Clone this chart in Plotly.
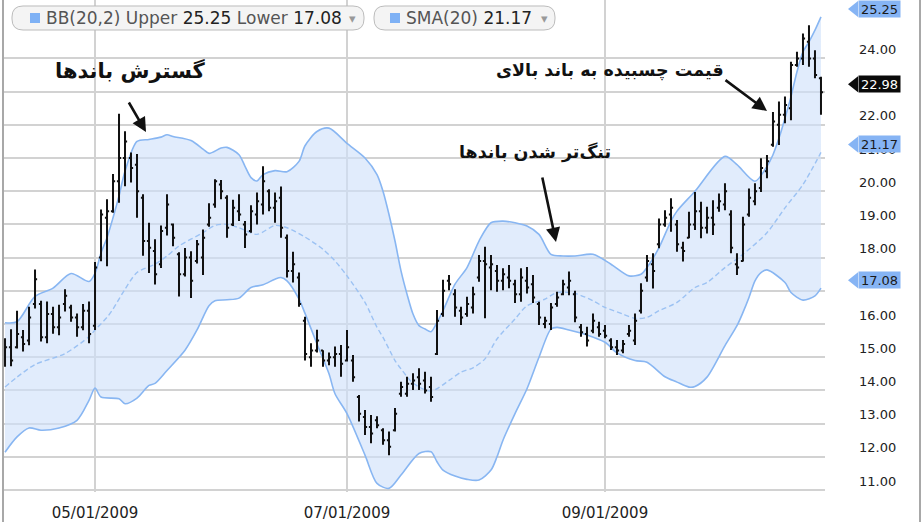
import plotly.graph_objects as go

# ---------------- data ----------------
bar_index = list(range(137))
opens = [15.0, 15.3, 15.3, 15.6, 15.5, 16.6, 16.6, 15.6, 16.3, 15.9,
         16.6, 16.5, 16.2, 15.9, 16.4, 15.95, 18.0, 19.2, 19.4, 20.3,
         21.0, 21.0, 20.8, 19.8, 18.5, 18.2, 17.8, 18.9, 19.0, 18.1,
         17.5, 18.0, 17.9, 18.0, 19.0, 19.6, 20.2, 19.8, 19.0, 19.4,
         19.0, 18.8, 19.3, 19.6, 20.0, 19.5, 19.8, 18.6, 17.6, 17.4,
         16.1, 15.0, 15.2, 15.2, 14.9, 15.0, 15.1, 14.9, 14.9, 13.8,
         13.2, 12.9, 13.1, 12.8, 12.5, 12.8, 13.9, 13.9, 14.2, 14.4,
         14.3, 14.1, 15.1, 16.3, 17.3, 16.9, 16.4, 16.3, 16.5, 17.4,
         17.9, 17.7, 17.6, 17.3, 17.4, 17.2, 16.9, 17.3, 17.2, 16.6,
         16.0, 16.0, 16.6, 16.9, 17.1, 16.9, 15.9, 15.7, 15.8, 15.9,
         15.8, 15.5, 15.3, 15.2, 15.7, 15.5, 16.4, 17.4, 17.8, 18.4,
         19.0, 19.3, 19.0, 18.3, 18.6, 19.0, 19.4, 18.9, 19.2, 19.5,
         19.6, 19.3, 17.8, 17.9, 19.3, 19.7, 20.1, 20.6, 21.4, 22.0,
         22.3, 22.5, 23.8, 24.0, 24.5, 24.0, 23.4]
highs = [15.57, 15.84, 16.40, 15.82, 16.52, 17.64, 16.70, 16.68, 16.52, 16.58,
         17.05, 16.58, 16.32, 16.60, 16.68, 17.87, 19.45, 19.76, 20.52, 22.33,
         21.81, 21.17, 21.12, 19.91, 19.05, 18.55, 18.97, 19.91, 19.03, 18.16,
         18.29, 18.19, 18.53, 18.85, 19.64, 20.36, 20.34, 19.88, 19.74, 19.91,
         19.10, 19.58, 19.96, 20.75, 20.06, 19.96, 20.14, 18.70, 18.18, 17.55,
         16.22, 15.42, 15.83, 15.21, 15.14, 15.32, 15.37, 15.82, 15.07, 13.86,
         13.41, 13.26, 13.22, 12.86, 12.76, 13.47, 14.26, 14.41, 14.52, 14.67,
         14.56, 14.41, 16.42, 17.33, 17.48, 17.05, 16.52, 16.82, 17.12, 18.08,
         18.33, 18.08, 17.78, 17.68, 17.78, 17.33, 17.68, 17.72, 17.48, 16.67,
         16.22, 16.63, 16.97, 17.33, 17.58, 17.00, 16.00, 15.92, 16.32, 16.07,
         15.97, 15.57, 15.52, 15.52, 15.97, 16.32, 17.23, 18.08, 18.13, 19.18,
         19.43, 19.79, 19.13, 18.48, 19.38, 19.98, 19.68, 19.53, 19.73, 19.93,
         20.24, 19.43, 18.13, 19.23, 20.08, 20.24, 20.99, 21.09, 22.39, 22.70,
         22.85, 23.90, 24.20, 24.75, 25.00, 24.25, 23.45]
lows = [14.71, 14.73, 15.26, 15.17, 15.36, 16.47, 15.47, 15.42, 15.71, 15.66,
        16.38, 16.07, 15.62, 15.81, 15.42, 15.82, 17.89, 17.74, 19.35, 19.65,
        20.15, 20.26, 19.20, 18.06, 17.54, 17.19, 17.69, 18.67, 18.34, 16.83,
        17.43, 16.78, 17.82, 17.48, 18.93, 19.50, 19.76, 18.60, 18.95, 19.10,
        18.29, 18.75, 19.00, 19.30, 19.40, 19.05, 18.60, 17.40, 17.25, 16.52,
        14.90, 14.71, 15.14, 14.71, 14.76, 14.71, 14.41, 14.87, 14.26, 13.06,
        12.66, 12.41, 12.86, 12.36, 12.05, 12.76, 13.81, 13.81, 14.01, 14.01,
        13.91, 13.66, 15.07, 16.22, 17.02, 16.22, 15.97, 16.22, 16.32, 17.27,
        16.17, 17.02, 16.97, 17.02, 17.08, 16.63, 16.67, 16.92, 16.63, 15.97,
        15.87, 15.82, 16.52, 16.87, 16.87, 16.05, 15.62, 15.32, 15.72, 15.62,
        15.57, 15.22, 15.07, 15.12, 15.62, 15.37, 16.32, 17.27, 17.07, 18.28,
        18.93, 18.78, 18.18, 17.88, 18.58, 18.83, 18.58, 18.73, 18.68, 19.38,
        19.43, 18.13, 17.48, 17.88, 19.23, 19.58, 19.98, 20.39, 21.34, 21.39,
        22.05, 22.14, 23.75, 23.80, 23.75, 23.40, 22.30]
closes = [15.3, 14.9, 15.7, 15.4, 16.2, 17.35, 15.6, 16.3, 15.9, 16.2,
          16.85, 16.2, 15.9, 16.4, 15.7, 17.7, 19.3, 19.4, 20.3, 21.0,
          21.5, 20.7, 20.0, 18.5, 18.3, 17.5, 18.8, 19.6, 18.6, 17.5,
          18.0, 17.3, 18.4, 18.6, 19.2, 20.3, 20.0, 18.9, 19.5, 19.3,
          18.7, 19.4, 19.7, 20.3, 19.5, 19.7, 18.9, 17.6, 17.8, 16.6,
          15.1, 15.2, 15.5, 14.9, 15.0, 15.1, 14.8, 15.3, 14.4, 13.3,
          12.9, 12.7, 12.95, 12.5, 12.3, 13.3, 14.1, 14.2, 14.3, 14.2,
          14.0, 13.8, 16.1, 17.0, 17.2, 16.5, 16.2, 16.6, 16.9, 17.9,
          17.8, 17.8, 17.3, 17.5, 17.3, 16.9, 17.4, 17.1, 16.8, 16.2,
          16.1, 16.5, 16.8, 17.2, 17.3, 16.2, 15.75, 15.5, 16.1, 15.7,
          15.65, 15.3, 15.2, 15.4, 15.8, 16.1, 17.0, 17.9, 17.6, 19.0,
          19.2, 19.5, 18.4, 18.2, 19.0, 19.4, 18.9, 19.2, 19.0, 19.7,
          20.0, 18.3, 17.7, 19.0, 19.8, 20.0, 20.7, 20.9, 22.1, 22.3,
          22.6, 23.8, 24.0, 24.6, 24.0, 23.5, 22.98]

upper_idx = [0, 2, 5, 8, 11, 14, 15, 16, 17, 18, 19, 20, 22, 24, 26, 27, 28, 31, 33, 34,
             36, 37, 39, 40, 41, 42, 43, 45, 47, 49, 50, 52, 54, 57, 60, 62, 63, 64, 65, 66,
             67, 68, 69, 70, 71, 72, 73, 75, 77, 79, 81, 83, 85, 87, 89, 91, 93, 95, 98, 101,
             104, 106, 107, 109, 111, 112, 115, 120, 122, 125, 127, 128, 129, 130, 131, 132,
             133, 134, 135, 136]
upper_val = [16.04, 16.07, 16.83, 17.08, 17.52, 17.28, 17.53, 18.14, 18.6, 19.2, 19.86, 20.6,
             21.5, 21.56, 21.63, 21.7, 21.65, 21.53, 21.27, 21.14, 21.3, 21.32, 21.1, 20.75,
             20.41, 20.31, 20.5, 20.62, 20.59, 20.9, 21.37, 21.8, 21.9, 21.44, 21.0, 20.5,
             20.0, 19.3, 18.5, 17.6, 16.9, 16.3, 15.95, 15.85, 15.77, 16.05, 16.4, 17.2, 17.7,
             18.5, 19.05, 19.1, 19.05, 18.95, 18.7, 18.1, 18.05, 18.05, 18.1, 17.8, 17.45,
             17.5, 17.7, 18.3, 19.1, 19.4, 20.0, 21.05, 20.8, 20.3, 20.75, 21.1, 21.6, 22.2,
             22.85, 23.6, 24.2, 24.5, 24.85, 25.25]
mid_idx = [0, 2, 5, 10, 14, 15, 17, 18, 20, 22, 25, 27, 29, 33, 35, 37, 39, 42, 45, 47,
           50, 53, 55, 57, 60, 62, 63, 65, 66, 68, 71, 74, 76, 78, 80, 82, 85, 87, 90, 92,
           95, 98, 100, 103, 105, 107, 109, 112, 115, 117, 120, 123, 127, 130, 133, 136]
mid_val = [14.1, 14.4, 14.78, 15.11, 15.62, 15.82, 16.2, 16.45, 17.05, 17.55, 17.8, 18.05,
           18.35, 18.75, 18.97, 19.0, 18.9, 18.7, 18.97, 18.9, 18.62, 18.25, 17.9, 17.45,
           16.65, 15.9, 15.6, 14.9, 14.65, 14.22, 13.98, 14.3, 14.55, 14.68, 14.95, 15.55,
           16.15, 16.55, 16.75, 16.95, 16.92, 16.7, 16.5, 16.3, 16.17, 16.2, 16.4, 16.65,
           17.1, 17.25, 17.7, 18.1, 18.75, 19.5, 20.2, 21.17]
lower_idx = [0, 2, 4, 6, 9, 12, 14, 15, 16, 19, 20, 22, 24, 25, 27, 30, 32, 34, 35, 37,
             39, 41, 43, 45, 46, 47, 49, 50, 52, 54, 55, 57, 60, 62, 64, 66, 69, 71, 72, 73,
             75, 77, 79, 81, 82, 83, 85, 87, 89, 91, 92, 94, 97, 100, 102, 105, 107, 110, 112,
             114, 115, 117, 120, 122, 123, 124, 125, 126, 127, 130, 131, 133, 135, 136]
lower_val = [12.14, 12.6, 12.87, 12.8, 12.87, 13.1, 13.7, 14.07, 13.8, 13.75, 13.6, 13.77,
             14.15, 14.21, 14.6, 15.21, 15.82, 16.55, 16.7, 16.73, 16.78, 17.1, 17.18, 17.35,
             17.4, 17.3, 16.75, 16.32, 15.4, 14.5, 13.9, 13.3, 12.05, 11.2, 11.05, 11.45, 12.1,
             12.15, 11.85, 11.6, 11.42, 11.32, 11.3, 11.6, 12.0, 12.5, 13.3, 14.05, 15.0, 15.85,
             15.9, 15.82, 15.67, 15.45, 15.13, 14.9, 14.85, 14.41, 14.25, 14.1, 14.12, 14.4,
             15.35, 15.95, 16.35, 16.8, 17.3, 17.55, 17.63, 17.25, 16.95, 16.72, 16.85, 17.08]

date_tick_index = [15, 57, 100]
date_tick_labels = ["05/01/2009", "07/01/2009", "09/01/2009"]
price_ticks = [11, 12, 13, 14, 15, 16, 17, 18, 19, 20, 21, 22, 23, 24]
# 17.00 and 23.00 sit fully under the value tags in the picture
price_tick_labels = ["" if v in (17, 23) else "%.2f" % v for v in price_ticks]

last_close = 22.98
last_upper = 25.25
last_lower = 17.08
last_sma = 21.17

note_expand = "گسترش باندها"
note_squeeze = "تنگ‌تر شدن باندها"
note_ride = "قیمت چسبیده به باند بالای"

# ---------------- layout geometry ----------------
W, H = 922, 522
PL, PR, PT, PB = 4, 825, 0, 492
X_RANGE = [-0.17, 136.67]
Y_RANGE = [10.94, 25.76]


def pxx(px):
    return (px - PL) / (PR - PL)


def pxy(py):
    return (PB - py) / (PB - PT)


def val_py(v):
    return PB - (v - Y_RANGE[0]) / (Y_RANGE[1] - Y_RANGE[0]) * (PB - PT)


def rounded_rect(x0, y0, x1, y1, r):
    pts = []
    pts.append("M %f,%f" % (pxx(x0 + r), pxy(y0)))
    pts.append("L %f,%f" % (pxx(x1 - r), pxy(y0)))
    pts.append("Q %f,%f %f,%f" % (pxx(x1), pxy(y0), pxx(x1), pxy(y0 + r)))
    pts.append("L %f,%f" % (pxx(x1), pxy(y1 - r)))
    pts.append("Q %f,%f %f,%f" % (pxx(x1), pxy(y1), pxx(x1 - r), pxy(y1)))
    pts.append("L %f,%f" % (pxx(x0 + r), pxy(y1)))
    pts.append("Q %f,%f %f,%f" % (pxx(x0), pxy(y1), pxx(x0), pxy(y1 - r)))
    pts.append("L %f,%f" % (pxx(x0), pxy(y0 + r)))
    pts.append("Q %f,%f %f,%f" % (pxx(x0), pxy(y0), pxx(x0 + r), pxy(y0)))
    pts.append("Z")
    return " ".join(pts)


def tag_tip(v):
    cy = val_py(v) - 8
    p = [(848, cy), (858, cy - 8), (858, cy + 8)]
    s = "M %f,%f " % (pxx(p[0][0]), pxy(p[0][1]))
    for (a, b) in p[1:]:
        s += "L %f,%f " % (pxx(a), pxy(b))
    return s + "Z"


BAND = "#88b6f2"
FILL = "rgba(206,224,250,0.62)"
MID = "#9cc2f3"
BAR = "#111111"
GRID = "#d2d2d2"
FONT = "DejaVu Sans"
TAGBLUE = "#86b4f4"

fig = go.Figure()
fig.add_trace(go.Scatter(x=upper_idx, y=upper_val, mode="lines",
                         line=dict(color=BAND, width=1.6, shape="spline", smoothing=0.8),
                         hoverinfo="skip", showlegend=False))
fig.add_trace(go.Scatter(x=lower_idx, y=lower_val, mode="lines", fill="tonexty",
                         fillcolor=FILL,
                         line=dict(color=BAND, width=1.6, shape="spline", smoothing=0.8),
                         hoverinfo="skip", showlegend=False))
fig.add_trace(go.Scatter(x=mid_idx, y=mid_val, mode="lines",
                         line=dict(color=MID, width=1.4, dash="5px,3px", shape="spline", smoothing=0.8),
                         hoverinfo="skip", showlegend=False))
# price bars on an overlaid (same-scale) axis so they draw above the band fill
fig.add_trace(go.Ohlc(x=bar_index, open=opens, high=highs, low=lows, close=closes,
                      xaxis="x", yaxis="y2",
                      increasing=dict(line=dict(color=BAR, width=2)),
                      decreasing=dict(line=dict(color=BAR, width=2)),
                      tickwidth=0.35, showlegend=False))

shapes = []
# white boxes behind the notes (above grid, below traces)
for (x0, y0, x1, y1) in [(5, 34, 232, 102), (447, 132, 655, 174), (488, 40, 727, 86),
                         (586, 100, 657, 132), (603, 36, 608, 176)]:
    shapes.append(dict(type="rect", xref="paper", yref="paper", layer="between",
                       x0=pxx(x0), x1=pxx(x1), y0=pxy(y1), y1=pxy(y0),
                       fillcolor="white", line=dict(width=0)))
# legend pills
for (x0, x1) in [(12, 364), (374, 555)]:
    shapes.append(dict(type="path", xref="paper", yref="paper", layer="above",
                       path=rounded_rect(x0, 6, x1, 30, 11),
                       fillcolor="#f4f4f4", line=dict(color="#bcbcbc", width=1)))
for x0 in [30, 390]:
    shapes.append(dict(type="rect", xref="paper", yref="paper", layer="above",
                       x0=pxx(x0), x1=pxx(x0 + 10), y0=pxy(23), y1=pxy(13),
                       fillcolor="#7eb1f5", line=dict(width=0)))
# value tag tips on the right
for (v, col) in [(last_upper, TAGBLUE), (last_close, "#0a0a0a"),
                 (last_sma, TAGBLUE), (last_lower, TAGBLUE)]:
    shapes.append(dict(type="path", xref="paper", yref="paper", layer="above",
                       path=tag_tip(v), fillcolor=col, line=dict(width=0)))
# frame lines
shapes.append(dict(type="line", xref="paper", yref="paper", x0=pxx(3), x1=pxx(3),
                   y0=pxy(H + 2), y1=pxy(-2), line=dict(color="#a8a8a8", width=2)))
shapes.append(dict(type="line", xref="paper", yref="paper", x0=pxx(920), x1=pxx(920),
                   y0=pxy(H + 2), y1=pxy(-2), line=dict(color="#a8a8a8", width=2)))

annotations = []
# notes
annotations.append(dict(x=pxx(130), y=pxy(70), xref="paper", yref="paper", text="<b>%s</b>" % note_expand,
                        xanchor="center", yanchor="middle",
                        showarrow=False, font=dict(family=FONT, size=21, color="#111")))
annotations.append(dict(x=pxx(535), y=pxy(152), xref="paper", yref="paper", text="<b>%s</b>" % note_squeeze,
                        xanchor="center", yanchor="middle",
                        showarrow=False, font=dict(family=FONT, size=17.5, color="#111")))
annotations.append(dict(x=pxx(610), y=pxy(70), xref="paper", yref="paper", text="<b>%s</b>" % note_ride,
                        xanchor="center", yanchor="middle",
                        showarrow=False, font=dict(family=FONT, size=17.5, color="#111")))
# arrows
for (tx, ty, hx, hy) in [(128, 101, 146, 132), (542, 176, 556, 242), (724, 79, 767, 111)]:
    annotations.append(dict(x=pxx(hx), y=pxy(hy), xref="paper", yref="paper",
                            ax=tx - hx, ay=ty - hy, axref="pixel", ayref="pixel",
                            text="", showarrow=True, arrowhead=2, arrowsize=1.1,
                            arrowwidth=2.6, arrowcolor="#111", standoff=0))
# legend text
annotations.append(dict(x=pxx(44), y=pxy(18), xref="paper", yref="paper",
                        xanchor="left", yanchor="middle",
                        showarrow=False, font=dict(family=FONT, size=17, color="#222"),
                        text="<span style='color:#555'>BB(20,2) Upper </span>%.2f<span style='color:#555'> Lower </span>%.2f" % (last_upper, last_lower)))
annotations.append(dict(x=pxx(404), y=pxy(18), xref="paper", yref="paper",
                        xanchor="left", yanchor="middle",
                        showarrow=False, font=dict(family=FONT, size=17, color="#222"),
                        text="<span style='color:#555'>SMA(20) </span>%.2f" % last_sma))
for x in [352, 544]:
    annotations.append(dict(x=pxx(x), y=pxy(18), xref="paper", yref="paper",
                            xanchor="center", yanchor="middle",
                            showarrow=False, text="▾", font=dict(family=FONT, size=13, color="#999")))
# tag bodies with text (drawn above axis labels)
for (v, bg, c) in [(last_upper, TAGBLUE, "#1a1a1a"), (last_close, "#0a0a0a", "white"),
                   (last_sma, TAGBLUE, "#1a1a1a"), (last_lower, TAGBLUE, "#1a1a1a")]:
    annotations.append(dict(x=pxx(858), y=pxy(val_py(v) - 8), xref="paper", yref="paper",
                            xanchor="left", yanchor="middle", showarrow=False, text="%.2f" % v,
                            width=40, height=15, borderpad=0.5, bgcolor=bg,
                            font=dict(family=FONT, size=13, color=c)))

fig.update_layout(
    width=W, height=H,
    margin=dict(l=PL, r=W - PR, t=PT, b=H - PB, autoexpand=False),
    paper_bgcolor="white", plot_bgcolor="white",
    showlegend=False,
    shapes=shapes, annotations=annotations,
    xaxis=dict(range=X_RANGE, tickmode="array", tickvals=date_tick_index, ticktext=date_tick_labels,
               showgrid=True, gridcolor=GRID, gridwidth=1.5, zeroline=False, showline=False,
               ticks="", tickfont=dict(family=FONT, size=15, color="#222"),
               rangeslider=dict(visible=False), ticklabelstandoff=10, automargin=False),
    yaxis=dict(range=Y_RANGE, side="right", tickmode="array", tickvals=price_ticks,
               ticktext=price_tick_labels, showgrid=True, gridcolor=GRID, gridwidth=1.5,
               zeroline=False, showline=False, ticks="",
               tickfont=dict(family=FONT, size=13, color="#222"),
               ticklabelshift=-9, ticklabelstandoff=33, automargin=False),
    yaxis2=dict(range=Y_RANGE, overlaying="y", side="right", showgrid=False,
                showticklabels=False, zeroline=False, showline=False, ticks="",
                automargin=False),
)

fig.write_html("out.html", config={"displayModeBar": False},
               post_script="document.body.style.margin='0px';document.body.style.overflow='hidden';")
